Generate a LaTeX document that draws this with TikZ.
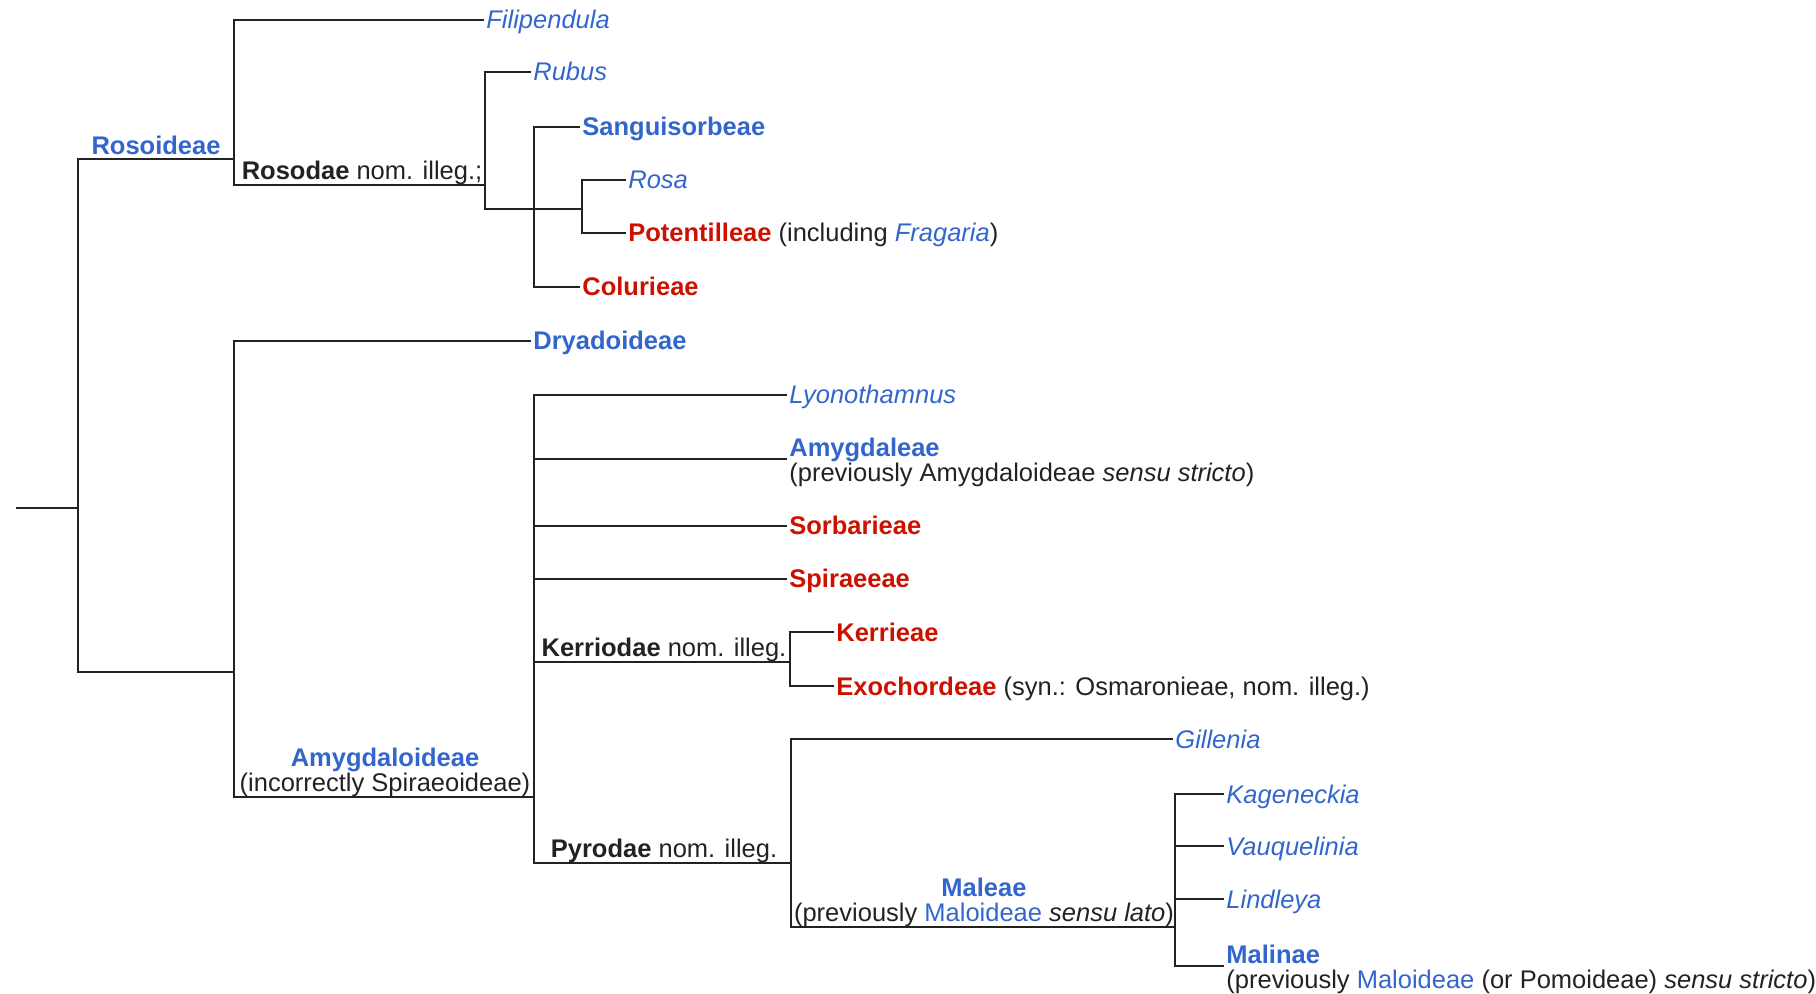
\documentclass[tikz,border=0pt]{standalone}
\usepackage{fontspec}
\setmainfont{Liberation Sans}
\usepackage{xcolor}
\usepackage{tikz}

\definecolor{linkblue}{HTML}{3366CC}
\definecolor{redlink}{HTML}{CC1100}
\definecolor{ink}{HTML}{222222}
\newcommand{\lk}[1]{\textcolor{linkblue}{#1}}
\newcommand{\rl}[1]{\textcolor{redlink}{#1}}

\begin{document}
\begin{tikzpicture}[
  x=0.5pt, y=-0.5pt,
  every node/.style={font=\fontsize{12.75pt}{12.5pt}\selectfont, text=ink, inner sep=0pt},
  branch/.style={draw=ink, line width=1.1pt},
  tip/.style={anchor=west, inner xsep=1pt, text height=0.9em, text depth=0pt},
  twoline/.style={anchor=north west, align=left, inner xsep=1pt, yshift=10.8pt},
  clade/.style={anchor=south, align=center}
]
  \useasboundingbox (0,0) rectangle (1816,994);

  % branching points
  \coordinate (stem) at (16,508);
  \coordinate (root) at (78,508);
  \coordinate (ros) at (234,159);
  \coordinate (rsd) at (485,185);
  \coordinate (rsdb) at (534,209);
  \coordinate (rsdc) at (582,209);
  \coordinate (dry) at (234,672);
  \coordinate (amy) at (534,797);
  \coordinate (ker) at (790,662);
  \coordinate (pyr) at (791,863);
  \coordinate (mal) at (1175,927);
  \coordinate (amgend) at (787,459);
  \coordinate (mlnend) at (1224,966);

  % tips
  \node[tip] (fil) at (484,20) {\lk{\itshape Filipendula}};
  \node[tip] (rub) at (531,72) {\lk{\itshape Rubus}};
  \node[tip] (san) at (580,127) {\lk{\bfseries Sanguisorbeae}};
  \node[tip] (rosa) at (626,180) {\lk{\itshape Rosa}};
  \node[tip] (pot) at (626,233) {\rl{\bfseries Potentilleae} (including \lk{\itshape Fragaria})};
  \node[tip] (col) at (580,287) {\rl{\bfseries Colurieae}};
  \node[tip] (dryt) at (531,341) {\lk{\bfseries Dryadoideae}};
  \node[tip] (lyo) at (787,395) {\lk{\itshape Lyonothamnus}};
  \node[twoline] (amg) at (amgend) {\lk{\bfseries Amygdaleae}\\(previously Amygdaloideae \textit{sensu stricto})};
  \node[tip] (sor) at (787,526) {\rl{\bfseries Sorbarieae}};
  \node[tip] (spi) at (787,579) {\rl{\bfseries Spiraeeae}};
  \node[tip] (kerr) at (834,632) {\rl{\bfseries Kerrieae}};
  \node[tip] (exo) at (834,686) {\rl{\bfseries Exochordeae} (syn.: Osmaronieae, nom. illeg.)};
  \node[tip] (gil) at (1173,739) {\lk{\itshape Gillenia}};
  \node[tip] (kag) at (1224,794) {\lk{\itshape Kageneckia}};
  \node[tip] (vau) at (1224,846) {\lk{\itshape Vauquelinia}};
  \node[tip] (lin) at (1224,899) {\lk{\itshape Lindleya}};
  \node[twoline] (mln) at (mlnend) {\lk{\bfseries Malinae}\\(previously \lk{Maloideae} (or Pomoideae) \textit{sensu stricto})};

  % clade names above their branches
  \node[clade, text depth=0.21em] (rosl) at (156,159) {\lk{\bfseries Rosoideae}};
  \node[clade] (rsdl) at (362,185) {\textbf{Rosodae} nom. illeg.;};
  \node[clade] (amyl) at (385,797) {\lk{\bfseries Amygdaloideae}\\(incorrectly Spiraeoideae)};
  \node[clade] (kerl) at (664,662) {\textbf{Kerriodae} nom. illeg.};
  \node[clade] (pyrl) at (664,863) {\textbf{Pyrodae} nom. illeg.};
  \node[clade] (mall) at (984,927) {\lk{\bfseries Maleae}\\(previously \lk{Maloideae} \textit{sensu lato})};

  % branches
  \draw[branch] (stem) -- (root);
  \draw[branch] (root) |- (ros);
  \draw[branch] (root) |- (dry);
  \draw[branch] (ros) |- (fil.west);
  \draw[branch] (ros) |- (rsd);
  \draw[branch] (rsd) |- (rub.west);
  \draw[branch] (rsd) |- (rsdb);
  \foreach \c in {san,col}
    \draw[branch] (rsdb) |- (\c.west);
  \draw[branch] (rsdb) -- (rsdc);
  \foreach \c in {rosa,pot}
    \draw[branch] (rsdc) |- (\c.west);
  \draw[branch] (dry) |- (dryt.west);
  \draw[branch] (dry) |- (amy);
  \foreach \c in {lyo,sor,spi}
    \draw[branch] (amy) |- (\c.west);
  \draw[branch] (amy) |- (amgend);
  \draw[branch] (amy) |- (ker);
  \draw[branch] (amy) |- (pyr);
  \foreach \c in {kerr,exo}
    \draw[branch] (ker) |- (\c.west);
  \draw[branch] (pyr) |- (gil.west);
  \draw[branch] (pyr) |- (mal);
  \foreach \c in {kag,vau,lin}
    \draw[branch] (mal) |- (\c.west);
  \draw[branch] (mal) |- (mlnend);
\end{tikzpicture}
\end{document}
